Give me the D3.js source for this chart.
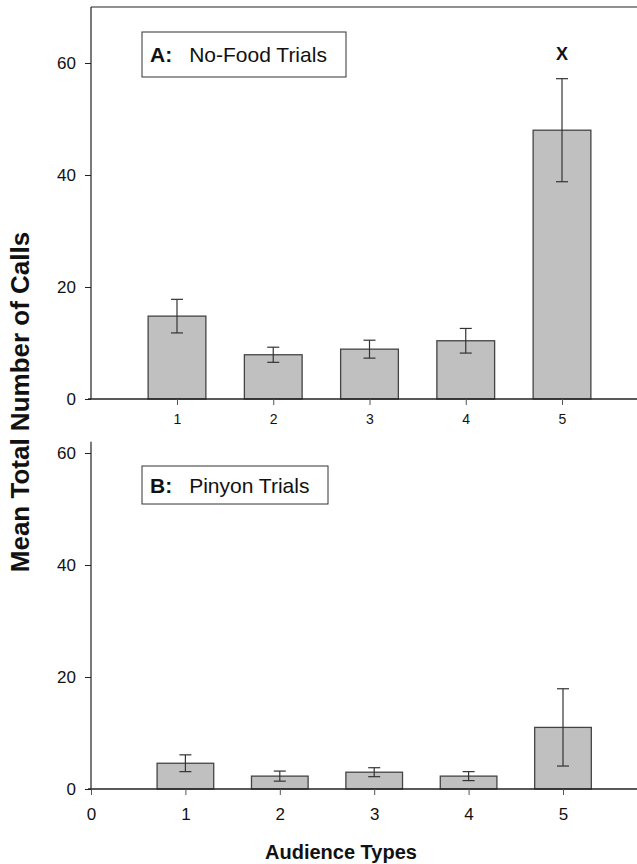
<!DOCTYPE html>
<html>
<head>
<meta charset="utf-8">
<script src="https://cdn.jsdelivr.net/npm/d3@7/dist/d3.min.js"></script>
<style>
  html, body { margin: 0; padding: 0; background: #fff; }
  svg { display: block; font-family: "Liberation Sans", Arial, sans-serif; }
</style>
</head>
<body>
<svg id="chart" width="637" height="864"></svg>
<script>
// Audience types on the x axis
const categories = [1, 2, 3, 4, 5];
// Panel A: no-food trials (mean calls and standard error)
const noFoodMeans = [14.8, 7.9, 8.9, 10.4, 48.0];
const noFoodErr = [3.0, 1.35, 1.6, 2.2, 9.2];
// Panel B: pinyon trials (mean calls and standard error)
const pinyonMeans = [4.6, 2.3, 3.0, 2.3, 11.0];
const pinyonErr = [1.5, 0.9, 0.8, 0.8, 6.9];
// Tick labels
const yTickValues = [0, 20, 40, 60];
const bottomXTicks = [0, 1, 2, 3, 4, 5];
const significanceMarks = ["", "", "", "", "X"];

const svg = d3.select("#chart");
const axisColor = "#222";
const barFill = "#c0c0c0";
const barStroke = "#444";
const errColor = "#333";
const barWidthUnits = 0.6;

const panels = [
  {
    means: noFoodMeans, errs: noFoodErr, tag: "A:", title: "No-Food Trials",
    x: d3.scaleLinear().domain([1, 5]).range([177, 562]),
    y: d3.scaleLinear().domain([0, 70]).range([399, 7]),
    yAxisTop: 70, topBorder: true, xTicks: categories, xLabelSize: 14, xLabelPad: 9,
    legend: { x: 142, y: 32, w: 204, h: 45 }
  },
  {
    means: pinyonMeans, errs: pinyonErr, tag: "B:", title: "Pinyon Trials",
    x: d3.scaleLinear().domain([0, 5]).range([91, 563]),
    y: d3.scaleLinear().domain([0, 70]).range([789, 397]),
    yAxisTop: 62, topBorder: false, xTicks: bottomXTicks, xLabelSize: 17, xLabelPad: 13,
    legend: { x: 142, y: 466, w: 186, h: 38 }
  }
];

panels.forEach((p, pi) => {
  const g = svg.append("g");
  const x = p.x, y = p.y;
  const unit = x(1) - x(0);
  const bw = unit * barWidthUnits;

  // bars
  g.selectAll("rect.bar").data(categories).join("rect")
    .attr("class", "bar")
    .attr("x", (d) => x(d) - bw / 2)
    .attr("width", bw)
    .attr("y", (d, i) => y(p.means[i]))
    .attr("height", (d, i) => y(0) - y(p.means[i]))
    .attr("fill", barFill)
    .attr("stroke", barStroke)
    .attr("stroke-width", 1.3);

  // error bars
  const eg = g.selectAll("g.err").data(categories).join("g").attr("class", "err")
    .attr("stroke", errColor).attr("stroke-width", 1.2);
  eg.append("line")
    .attr("x1", (d) => x(d)).attr("x2", (d) => x(d))
    .attr("y1", (d, i) => y(p.means[i] + p.errs[i]))
    .attr("y2", (d, i) => y(p.means[i] - p.errs[i]));
  [1, -1].forEach((s) => {
    eg.append("line")
      .attr("x1", (d) => x(d) - 6).attr("x2", (d) => x(d) + 6)
      .attr("y1", (d, i) => y(p.means[i] + s * p.errs[i]))
      .attr("y2", (d, i) => y(p.means[i] + s * p.errs[i]));
  });

  // y axis
  const yAxis = d3.axisLeft(y).tickValues(yTickValues).tickSize(6).tickPadding(9);
  const yAxisG = g.append("g").attr("transform", "translate(91,0)").call(yAxis);
  yAxisG.select(".domain").remove();
  yAxisG.selectAll("line").attr("stroke", axisColor);
  yAxisG.selectAll("text").attr("font-size", 17).attr("fill", "#111")
    .attr("font-family", "Liberation Sans, Arial, sans-serif");
  g.append("line")
    .attr("x1", 91).attr("x2", 91)
    .attr("y1", y(p.yAxisTop)).attr("y2", y(0))
    .attr("stroke", axisColor).attr("stroke-width", 1.2);

  // x axis baseline and ticks
  g.append("line")
    .attr("x1", 88).attr("x2", 637)
    .attr("y1", y(0)).attr("y2", y(0))
    .attr("stroke", axisColor).attr("stroke-width", 1.5);
  const xAxis = d3.axisBottom(x).tickValues(p.xTicks).tickSize(6).tickPadding(p.xLabelPad)
    .tickFormat(d3.format("d"));
  const xAxisG = g.append("g").attr("transform", `translate(0,${y(0)})`).call(xAxis);
  xAxisG.select(".domain").remove();
  xAxisG.selectAll("line").attr("stroke", "#555");
  xAxisG.selectAll("text").attr("font-size", p.xLabelSize).attr("fill", "#111")
    .attr("font-family", "Liberation Sans, Arial, sans-serif");

  if (p.topBorder) {
    g.append("line")
      .attr("x1", 91).attr("x2", 637)
      .attr("y1", y(70)).attr("y2", y(70))
      .attr("stroke", axisColor).attr("stroke-width", 1.2);
  }

  // panel label box
  const L = p.legend;
  g.append("rect")
    .attr("x", L.x).attr("y", L.y).attr("width", L.w).attr("height", L.h)
    .attr("fill", "#fff").attr("stroke", "#333").attr("stroke-width", 1);
  const t = g.append("text")
    .attr("x", L.x + 8).attr("y", L.y + L.h / 2 + 7.5)
    .attr("font-size", 21).attr("fill", "#111");
  t.append("tspan").attr("font-weight", "bold").text(p.tag);
  t.append("tspan").attr("dx", 17).text(p.title);

  // significance marks above bars
  g.selectAll("text.sig").data(categories).join("text")
    .attr("class", "sig")
    .attr("x", (d) => x(d))
    .attr("y", (d, i) => y(p.means[i] + p.errs[i]) - 19)
    .attr("text-anchor", "middle")
    .attr("font-size", 18).attr("font-weight", "bold").attr("fill", "#111")
    .text((d, i) => pi === 0 ? significanceMarks[i] : "");
});

// axis titles
svg.append("text")
  .attr("transform", "translate(29,402) rotate(-90)")
  .attr("text-anchor", "middle")
  .attr("font-size", 26).attr("font-weight", "bold").attr("fill", "#111")
  .text("Mean Total Number of Calls");

svg.append("text")
  .attr("x", 341).attr("y", 859)
  .attr("text-anchor", "middle")
  .attr("font-size", 20).attr("font-weight", "bold").attr("fill", "#111")
  .text("Audience Types");
</script>
</body>
</html>
